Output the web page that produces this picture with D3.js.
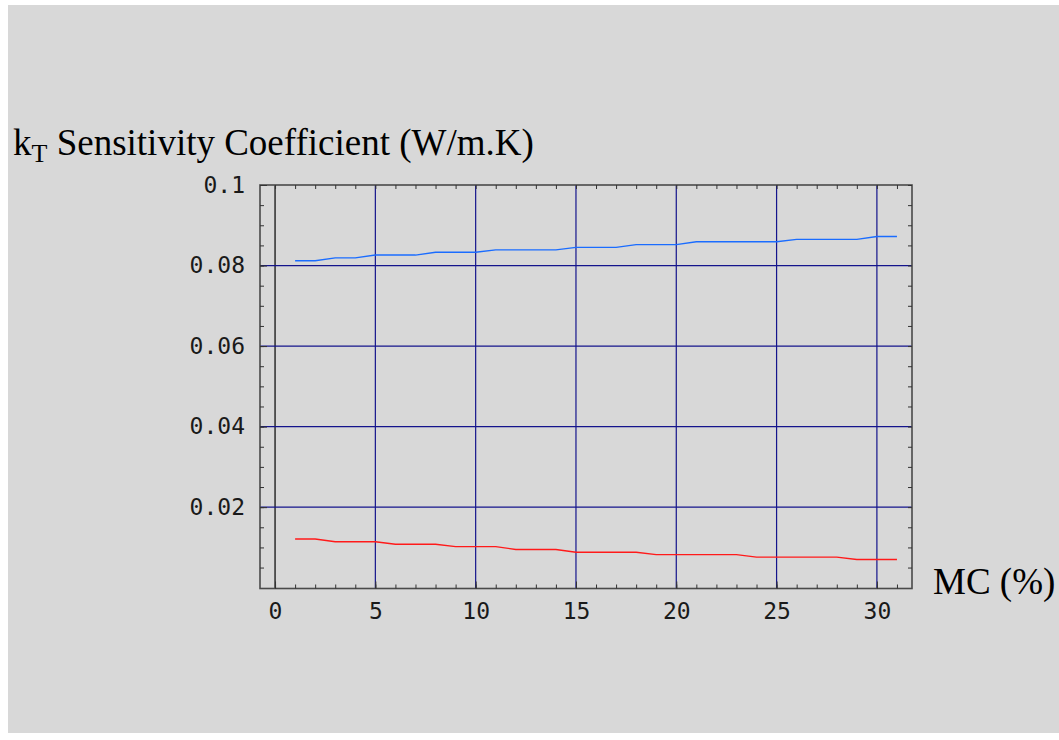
<!DOCTYPE html>
<html>
<head>
<meta charset="utf-8">
<script src="https://cdnjs.cloudflare.com/ajax/libs/d3/7.8.5/d3.min.js"></script>
<style>
  body { margin: 0; background: #fff; }
  svg { display: block; }
</style>
</head>
<body>
<div id="viz"></div>
<script>
// moisture content (%)
var mc = [1, 2, 3, 4, 5, 6, 7, 8, 9, 10, 11, 12, 13, 14, 15, 16,
          17, 18, 19, 20, 21, 22, 23, 24, 25, 26, 27, 28, 29, 30, 31];
// upper (blue) curve
var kBlue = [0.0812, 0.0812, 0.0819, 0.0819, 0.0826, 0.0826, 0.0826, 0.0833,
             0.0833, 0.0833, 0.0839, 0.0839, 0.0839, 0.0839, 0.0845, 0.0845,
             0.0845, 0.0852, 0.0852, 0.0852, 0.0859, 0.0859, 0.0859, 0.0859,
             0.0859, 0.0865, 0.0865, 0.0865, 0.0865, 0.0872, 0.0872];
// lower (red) curve
var kRed = [0.0121, 0.0121, 0.0114, 0.0114, 0.0114, 0.0108, 0.0108, 0.0108,
            0.0102, 0.0102, 0.0102, 0.0095, 0.0095, 0.0095, 0.0088, 0.0088,
            0.0088, 0.0088, 0.0082, 0.0082, 0.0082, 0.0082, 0.0082, 0.0076,
            0.0076, 0.0076, 0.0076, 0.0076, 0.0070, 0.0070, 0.0070];

var xTicks = [0, 5, 10, 15, 20, 25, 30];
var yTicks = [0.02, 0.04, 0.06, 0.08, 0.1];
var yTickLabels = ['0.02', '0.04', '0.06', '0.08', '0.1'];

var W = 1059, H = 740;
// plot frame (window.top is reserved, so no plain "top")
var pLeft = 260, pRight = 912, pTop = 185, pBottom = 588.5;

var svg = d3.select('#viz').append('svg').attr('width', W).attr('height', H);

svg.append('rect').attr('x', 8).attr('y', 5).attr('width', W - 8).attr('height', 728)
  .attr('fill', '#d8d8d8');

var x = d3.scaleLinear().domain([-0.75, 31.75]).range([pLeft, pRight]);
var y = d3.scaleLinear().domain([-0.0002, 0.1]).range([pBottom, pTop]);

// grid
var grid = svg.append('g');
grid.selectAll('line.vx').data(xTicks).enter().append('line')
  .attr('x1', function(d) { return x(d); }).attr('x2', function(d) { return x(d); })
  .attr('y1', pTop).attr('y2', pBottom)
  .attr('stroke', function(d) { return d === 0 ? '#000' : '#14148c'; })
  .attr('stroke-width', 1.2);
grid.selectAll('line.hy').data(yTicks.slice(0, 4)).enter().append('line')
  .attr('x1', pLeft).attr('x2', pRight)
  .attr('y1', function(d) { return y(d); }).attr('y2', function(d) { return y(d); })
  .attr('stroke', '#14148c').attr('stroke-width', 1.2);

// curves
var line = d3.line()
  .x(function(d, i) { return x(mc[i]); })
  .y(function(d) { return y(d); });

svg.append('path').datum(kBlue).attr('d', line)
  .attr('fill', 'none').attr('stroke', '#1a6cff').attr('stroke-width', 1.4);
svg.append('path').datum(kRed).attr('d', line)
  .attr('fill', 'none').attr('stroke', '#ff1a1a').attr('stroke-width', 1.4);

// frame
svg.append('rect').attr('x', pLeft).attr('y', pTop)
  .attr('width', pRight - pLeft).attr('height', pBottom - pTop)
  .attr('fill', 'none').attr('stroke', '#4a4a4a').attr('stroke-width', 1.6);

// minor ticks all round, pointing inward
var minorX = d3.range(0, 32, 1);
var minorY = d3.range(0.005, 0.1001, 0.005);

function styleAxis(g) {
  g.select('.domain').remove();
  g.selectAll('line').attr('stroke', '#333');
  g.selectAll('text').attr('fill', '#1a1a1a')
    .style('font-family', '"DejaVu Sans Mono", monospace').style('font-size', '23px');
}

svg.append('g').attr('transform', 'translate(0,' + pBottom + ')')
  .call(d3.axisBottom(x).tickValues(minorX).tickSize(-4).tickFormat(''))
  .call(styleAxis);
svg.append('g').attr('transform', 'translate(0,' + pTop + ')')
  .call(d3.axisTop(x).tickValues(minorX).tickSize(-4).tickFormat(''))
  .call(styleAxis);
svg.append('g').attr('transform', 'translate(' + pLeft + ',0)')
  .call(d3.axisLeft(y).tickValues(minorY).tickSize(-4).tickFormat(''))
  .call(styleAxis);
svg.append('g').attr('transform', 'translate(' + pRight + ',0)')
  .call(d3.axisRight(y).tickValues(minorY).tickSize(-4).tickFormat(''))
  .call(styleAxis);

// labelled axes
svg.append('g').attr('transform', 'translate(0,' + pBottom + ')')
  .call(d3.axisBottom(x).tickValues(xTicks).tickSize(-7).tickPadding(14))
  .call(styleAxis);
svg.append('g').attr('transform', 'translate(' + pLeft + ',0)')
  .call(d3.axisLeft(y).tickValues(yTicks).tickSize(-7).tickPadding(15)
    .tickFormat(function(d, i) { return yTickLabels[i]; }))
  .call(styleAxis);

// axis titles
var ttl = svg.append('text').attr('x', 13).attr('y', 155)
  .style('font-family', '"Liberation Serif", "Times New Roman", serif')
  .style('font-size', '37px').attr('fill', '#000');
ttl.append('tspan').text('k');
ttl.append('tspan').attr('dy', 7).style('font-size', '26px').text('T');
ttl.append('tspan').attr('dy', -7).text(' Sensitivity Coefficient (W/m.K)');

svg.append('text').attr('x', 933).attr('y', 594)
  .style('font-family', '"Liberation Serif", "Times New Roman", serif')
  .style('font-size', '37px').attr('fill', '#000')
  .text('MC (%)');
</script>
</body>
</html>
